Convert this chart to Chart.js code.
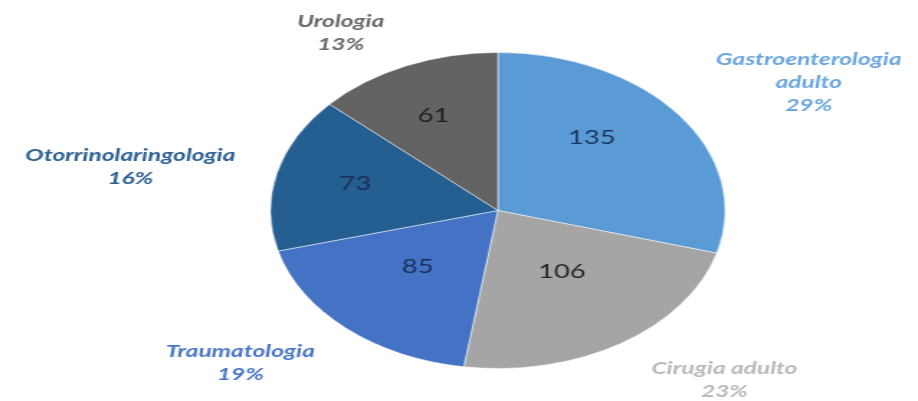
<!DOCTYPE html>
<html>
<head>
<meta charset="utf-8">
<script src="https://cdn.jsdelivr.net/npm/chart.js@4"></script>
<style>
body{margin:0;background:#fff;overflow:hidden}
#wrap{width:638px;height:401px;transform:scaleX(1.4389);transform-origin:0 0}
</style>
</head>
<body>
<div id="wrap"><canvas id="pie" width="638" height="401"></canvas></div>
<script>
const categories=[["Gastroenterologia","adulto"],"Cirugia adulto","Traumatologia","Otorrinolaringologia","Urologia"]
const cases=[135,106,85,73,61]
const percents=[29,23,19,16,13]

const sliceColors=["#5b9bd5","#a5a5a5","#4472c4","#255e91","#636363"]
const nameColors=["#6aa5dc","#b9b9b9","#4a76c6","#2d5f93","#6a6a6a"]
const valueColors=["#1c355e","#262626","#1a2f5a","#1a2f55","#1e1e1e"]

// where labels sit against their slice: k = part of the radius, da = degrees turned from the slice middle
const valueSpots=[{k:.62,da:-11},{k:.48,da:-3},{k:.5,da:3},{k:.65,da:1.5},{k:.66,da:-1.5}]
const nameSpots=[{k:1.59,da:6.5},{k:1.465,da:-10},{k:1.49,da:7.6},{k:1.64,da:-4},{k:1.32,da:-7.7}]

const sliceLabels={
id:"sliceLabels",
afterDatasetsDraw(chart){
const c=chart.ctx
const arcs=chart.getDatasetMeta(0).data
c.save()
c.textAlign="center"
c.textBaseline="middle"
arcs.forEach((arc,i)=>{
const {x,y,startAngle,endAngle,outerRadius}=arc.getProps(["x","y","startAngle","endAngle","outerRadius"],true)
const mid=(startAngle+endAngle)/2
const at=s=>{
const a=mid+s.da*Math.PI/180
return [x+Math.cos(a)*outerRadius*s.k,y+Math.sin(a)*outerRadius*s.k]
}
const [vx,vy]=at(valueSpots[i])
c.font="19px Lato"
c.fillStyle=valueColors[i]
c.fillText(cases[i],vx,vy)
const lines=[].concat(categories[i],percents[i]+"%")
const [nx,ny]=at(nameSpots[i])
c.font="italic bold 17px Lato"
c.fillStyle=nameColors[i]
lines.forEach((t,j)=>c.fillText(t,nx,ny+(j-(lines.length-1)/2)*23))
})
c.restore()
}
}

new Chart(document.getElementById("pie"),{
type:"pie",
data:{
labels:categories,
datasets:[{
data:cases,
backgroundColor:sliceColors,
borderColor:"rgba(255,255,255,0.5)",
borderWidth:1,
hoverOffset:0
}]
},
options:{
responsive:false,
animation:false,
devicePixelRatio:1,
layout:{padding:{top:52,bottom:32,left:54,right:0}},
plugins:{
legend:{display:false},
tooltip:{enabled:false}
}
},
plugins:[sliceLabels]
})
</script>
</body>
</html>
